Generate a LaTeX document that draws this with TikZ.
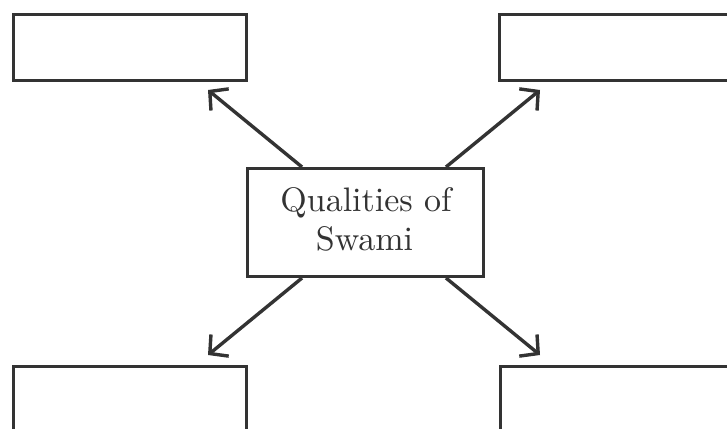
\documentclass[tikz,border=0pt]{standalone}
\usetikzlibrary{arrows.meta}
\definecolor{ink}{HTML}{333333}
\begin{document}
\begin{tikzpicture}[x=1pt,y=-1pt,
  box/.style={draw=ink,line width=3.4pt,fill=white,inner sep=0pt},
  arr/.style={draw=ink,line width=3.4pt,-{Straight Barb[length=13pt,width=28pt,line width=3.4pt]}},
  lbl/.style={text=ink,font=\fontsize{10}{11.5}\selectfont,scale=3.4,inner sep=0pt}]
\useasboundingbox (0,0) rectangle (727,428);
\clip (0,0) rectangle (727,428);
% outer boxes
\node[box,minimum width=233pt,minimum height=66pt] (tl) at (130,47.5) {};
\node[box,minimum width=250pt,minimum height=66pt] (tr) at (624.5,47.5) {};
\node[box,minimum width=233pt,minimum height=100pt] (bl) at (130,416.5) {};
\node[box,minimum width=250pt,minimum height=100pt] (br) at (625.5,416.5) {};
% centre box
\node[box,minimum width=236pt,minimum height=108pt] (c) at (365.5,222.5) {};
\node[lbl,anchor=base] (t1) at (366,211) {Qualities of};
\node[lbl,anchor=base] (t2) at (364.5,250) {Swami};
% arrows
\coordinate (s1) at (302,167);
\coordinate (e1) at (208,90);
\coordinate (s2) at (446,167);
\coordinate (e2) at (540,90);
\coordinate (s3) at (302,278);
\coordinate (e3) at (208,355);
\coordinate (s4) at (446,278);
\coordinate (e4) at (540,355);
\draw[arr] (s1) -- (e1);
\draw[arr] (s2) -- (e2);
\draw[arr] (s3) -- (e3);
\draw[arr] (s4) -- (e4);
\end{tikzpicture}
\end{document}
